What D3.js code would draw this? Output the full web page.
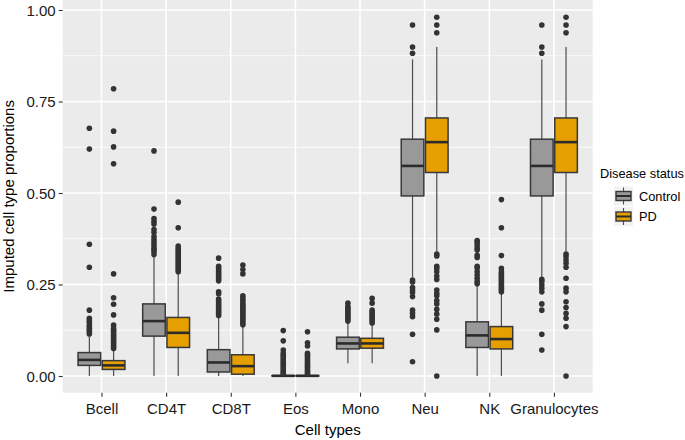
<!DOCTYPE html>
<meta charset="utf-8">
<style>
	body {
		margin: 0;
		background: #ffffff;
	}

	svg text {
		font-family: "Liberation Sans", Arial, Helvetica, sans-serif;
	}
</style>
<svg width="685" height="440"></svg>
<script src="https://d3js.org/d3.v7.min.js"></script>
<script>
	// cell types on the x axis
	var categories = ['Bcell', 'CD4T', 'CD8T', 'Eos', 'Mono', 'Neu', 'NK', 'Granulocytes']
	var groups = ['Control', 'PD']

	// box statistics per cell type, Control
	var controlLower = [0, 0, 0, 0, 0.035, 0.27, 0, 0.27]
	var controlQ1 = [0.029, 0.109, 0.011, 0, 0.074, 0.492, 0.078, 0.492]
	var controlMedian = [0.044, 0.150, 0.037, 0.0005, 0.089, 0.574, 0.111, 0.574]
	var controlQ3 = [0.064, 0.197, 0.072, 0.001, 0.106, 0.647, 0.148, 0.647]
	var controlUpper = [0.107, 0.326, 0.158, 0.002, 0.144, 0.865, 0.246, 0.865]

	// box statistics per cell type, PD
	var pdLower = [0, 0, 0, 0, 0.035, 0.34, 0, 0.34]
	var pdQ1 = [0.018, 0.078, 0.005, 0, 0.076, 0.556, 0.074, 0.556]
	var pdMedian = [0.029, 0.118, 0.027, 0.0005, 0.089, 0.639, 0.101, 0.639]
	var pdQ3 = [0.042, 0.160, 0.058, 0.001, 0.103, 0.705, 0.135, 0.705]
	var pdUpper = [0.068, 0.28, 0.135, 0.002, 0.139, 0.899, 0.226, 0.899]

	// outliers, one list per cell type
	var controlOutliers = [
		[0.677, 0.62, 0.36, 0.297, 0.18, 0.158, 0.152, 0.147, 0.14, 0.135, 0.13, 0.125, 0.12, 0.115],
		[0.615, 0.456, 0.43, 0.422, 0.415, 0.40, 0.392, 0.381, 0.373, 0.365, 0.358, 0.35, 0.345, 0.34, 0.332],
		[0.322, 0.30, 0.295, 0.29, 0.285, 0.28, 0.275, 0.27, 0.265, 0.26, 0.23, 0.225, 0.21, 0.205, 0.20, 0.195, 0.19, 0.185, 0.18, 0.175, 0.17, 0.165],
		[0.124, 0.096, 0.071, 0.062, 0.057, 0.052, 0.047, 0.042, 0.037, 0.032, 0.027, 0.022, 0.017, 0.012, 0.008, 0.005],
		[0.199, 0.19, 0.185, 0.18, 0.175, 0.17, 0.165, 0.16, 0.155, 0.15],
		[0.959, 0.899, 0.882, 0.262, 0.257, 0.242, 0.235, 0.228, 0.217, 0.18, 0.171, 0.162, 0.114, 0.039],
		[0.37, 0.365, 0.358, 0.35, 0.344, 0.33, 0.324, 0.30, 0.295, 0.285, 0.276, 0.267, 0.258, 0.252],
		[0.959, 0.899, 0.882, 0.264, 0.258, 0.249, 0.24, 0.23, 0.197, 0.18, 0.114, 0.071]
	]
	var pdOutliers = [
		[0.785, 0.669, 0.626, 0.58, 0.279, 0.214, 0.196, 0.167, 0.139, 0.13, 0.125, 0.12, 0.115, 0.11, 0.105, 0.1, 0.095, 0.09, 0.085, 0.08, 0.075],
		[0.475, 0.405, 0.355, 0.35, 0.345, 0.34, 0.335, 0.33, 0.325, 0.32, 0.315, 0.31, 0.305, 0.3, 0.295, 0.29, 0.285],
		[0.303, 0.291, 0.279, 0.219, 0.213, 0.207, 0.20, 0.195, 0.19, 0.185, 0.18, 0.175, 0.17, 0.165, 0.16, 0.155, 0.15, 0.145, 0.14],
		[0.121, 0.091, 0.082, 0.062, 0.057, 0.052, 0.047, 0.042, 0.037, 0.032, 0.027, 0.022, 0.017, 0.012, 0.008, 0.005],
		[0.212, 0.199, 0.18, 0.175, 0.17, 0.165, 0.16, 0.155, 0.15, 0.145],
		[0.98, 0.959, 0.938, 0.333, 0.328, 0.30, 0.294, 0.285, 0.273, 0.264, 0.235, 0.226, 0.219, 0.206, 0.197, 0.182, 0.169, 0.155, 0.126, 0],
		[0.482, 0.405, 0.329, 0.294, 0.285, 0.28, 0.275, 0.27, 0.265, 0.26, 0.255, 0.25, 0.245, 0.24, 0.235, 0.23],
		[0.98, 0.959, 0.938, 0.333, 0.326, 0.317, 0.308, 0.297, 0.267, 0.24, 0.23, 0.203, 0.187, 0.171, 0.158, 0.135, 0]
	]

	var yTicks = [0, 0.25, 0.5, 0.75, 1]
	var yTickLabels = ['0.00', '0.25', '0.50', '0.75', '1.00']
	var yMinor = [0.125, 0.375, 0.625, 0.875]

	var fills = { Control: '#999999', PD: '#E69F00' }

	var svg = d3.select('svg'),
		panel = { left: 62.7, right: 592.7, top: 0, bottom: 392.7 }

	var x = d3.scalePoint().domain(categories).range([panel.left, panel.right]).padding(0.6),
		y = d3.scaleLinear().domain([-0.0456, 1.0273]).range([panel.bottom, panel.top])

	var step = x.step(),
		dodge = d3.scaleBand().domain(groups).range([-0.375 * step, 0.375 * step]),
		boxW = 0.35 * step

	// panel background + grid
	svg.append('rect')
		.attr('x', panel.left).attr('y', panel.top)
		.attr('width', panel.right - panel.left).attr('height', panel.bottom - panel.top)
		.attr('fill', '#EBEBEB')

	var grid = svg.append('g').attr('stroke', '#ffffff')
	grid.selectAll('.minor').data(yMinor).enter().append('line')
		.attr('x1', panel.left).attr('x2', panel.right)
		.attr('y1', d => y(d)).attr('y2', d => y(d))
		.attr('stroke-width', 0.8)
	grid.selectAll('.major').data(yTicks).enter().append('line')
		.attr('x1', panel.left).attr('x2', panel.right)
		.attr('y1', d => y(d)).attr('y2', d => y(d))
		.attr('stroke-width', 1.6)
	grid.selectAll('.vmajor').data(categories).enter().append('line')
		.attr('y1', panel.top).attr('y2', panel.bottom)
		.attr('x1', d => x(d)).attr('x2', d => x(d))
		.attr('stroke-width', 1.6)

	// axes
	var xAxis = d3.axisBottom(x).tickSize(4).tickPadding(3),
		yAxis = d3.axisLeft(y).tickValues(yTicks).tickFormat((d, i) => yTickLabels[i]).tickSize(4).tickPadding(3)

	var gx = svg.append('g')
		.attr('transform', 'translate(0,' + panel.bottom + ')')
		.call(xAxis)
	var gy = svg.append('g')
		.attr('transform', 'translate(' + panel.left + ',0)')
		.call(yAxis)

	;[gx, gy].forEach(function (g) {
		g.select('.domain').remove()
		g.selectAll('.tick line').attr('stroke', '#333333').attr('stroke-width', 1.1)
		g.selectAll('.tick text').attr('fill', '#1a1a1a').style('font-size', '15px')
	})
	gx.selectAll('.tick text').attr('dy', '0.95em')
	gy.selectAll('.tick text').attr('dy', '0.36em')

	// boxes
	var rows = []
	categories.forEach(function (c, i) {
		rows.push({ cat: c, group: 'Control', lo: controlLower[i], q1: controlQ1[i], med: controlMedian[i], q3: controlQ3[i], hi: controlUpper[i], out: controlOutliers[i] })
		rows.push({ cat: c, group: 'PD', lo: pdLower[i], q1: pdQ1[i], med: pdMedian[i], q3: pdQ3[i], hi: pdUpper[i], out: pdOutliers[i] })
	})

	var boxes = svg.append('g').selectAll('g').data(rows).enter().append('g')
		.attr('transform', d => 'translate(' + (x(d.cat) + dodge(d.group) + dodge.bandwidth() / 2) + ',0)')

	boxes.append('line')
		.attr('x1', 0).attr('x2', 0)
		.attr('y1', d => y(d.hi)).attr('y2', d => y(d.q3))
		.attr('stroke', '#4d4d4d').attr('stroke-width', 1.2)
	boxes.append('line')
		.attr('x1', 0).attr('x2', 0)
		.attr('y1', d => y(d.q1)).attr('y2', d => y(d.lo))
		.attr('stroke', '#4d4d4d').attr('stroke-width', 1.2)

	boxes.append('rect')
		.attr('x', -boxW / 2).attr('width', boxW)
		.attr('y', d => y(d.q3)).attr('height', d => Math.max(0.01, y(d.q1) - y(d.q3)))
		.attr('fill', d => fills[d.group])
		.attr('stroke', '#383838').attr('stroke-width', 1.5)

	boxes.append('line')
		.attr('x1', -boxW / 2).attr('x2', boxW / 2)
		.attr('y1', d => y(d.med)).attr('y2', d => y(d.med))
		.attr('stroke', '#2b2b2b').attr('stroke-width', 2.6)

	boxes.selectAll('circle').data(d => d.out).enter().append('circle')
		.attr('cx', 0).attr('cy', d => y(d))
		.attr('r', 2.8)
		.attr('fill', '#333333')

	// axis titles
	svg.append('text')
		.attr('x', (panel.left + panel.right) / 2).attr('y', 434.5)
		.attr('text-anchor', 'middle')
		.style('font-size', '15px')
		.text('Cell types')
	svg.append('text')
		.attr('transform', 'translate(14,' + ((panel.top + panel.bottom) / 2) + ') rotate(-90)')
		.attr('text-anchor', 'middle')
		.style('font-size', '15px')
		.text('Imputed cell type proportions')

	// legend
	var legend = svg.append('g').attr('transform', 'translate(600,0)')
	legend.append('text')
		.attr('x', 0).attr('y', 178)
		.style('font-size', '12.8px')
		.text('Disease status')

	var keys = legend.selectAll('.key').data(groups).enter().append('g')
		.attr('transform', (d, i) => 'translate(14,' + (186.5 + i * 20.5) + ')')
	keys.append('rect')
		.attr('width', 19).attr('height', 19)
		.attr('fill', '#F2F2F2')
	keys.append('line')
		.attr('x1', 9.5).attr('x2', 9.5).attr('y1', 1).attr('y2', 18)
		.attr('stroke', '#4d4d4d').attr('stroke-width', 1.1)
	keys.append('rect')
		.attr('x', 2).attr('y', 5).attr('width', 15).attr('height', 9)
		.attr('fill', d => fills[d])
		.attr('stroke', '#383838').attr('stroke-width', 1.4)
	keys.append('line')
		.attr('x1', 2).attr('x2', 17).attr('y1', 9.5).attr('y2', 9.5)
		.attr('stroke', '#2b2b2b').attr('stroke-width', 2)
	keys.append('text')
		.attr('x', 25).attr('y', 9.5).attr('dy', '0.36em')
		.style('font-size', '12.8px')
		.text(d => d)
</script>
